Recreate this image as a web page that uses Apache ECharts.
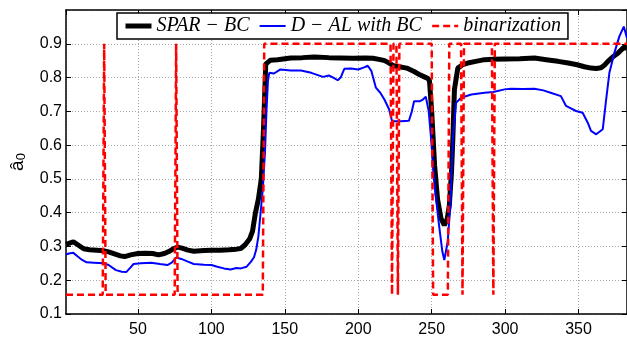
<!DOCTYPE html>
<html>
<head>
<meta charset="utf-8">
<script src="https://cdn.jsdelivr.net/npm/echarts@6/dist/echarts.min.js"></script>
<style>
  html, body { margin: 0; padding: 0; background: #fff; }
  #chart { width: 627px; height: 338px; }
</style>
</head>
<body>
<div id="chart"></div>
<script>
// series names
const names = ['SPAR − BC', 'D − AL with BC', 'binarization'];

// SPAR-BC (black, thick)
const sparX = [1, 3, 6, 9, 13, 17, 22, 27, 30, 34, 38, 41, 45, 50, 55, 60, 64, 68, 71, 74, 77, 80, 84, 88, 95, 100, 106, 112, 117, 120, 123, 126, 128, 130, 132, 134, 135.5, 137, 140, 145, 154, 162, 170, 180, 188, 196, 205, 210, 215, 218, 221, 224, 228, 233, 238, 242, 245, 247.5, 248.5, 250, 252, 254, 256.4, 258.6, 260.5, 262, 263.5, 264.4, 265.5, 267.8, 271, 274.6, 280, 286, 292, 300, 310, 320, 328, 336, 343, 349, 354, 358.5, 362, 365.3, 368, 370, 373, 377, 381, 383];
const sparY = [0.307, 0.309, 0.314, 0.305, 0.293, 0.29, 0.289, 0.287, 0.284, 0.278, 0.272, 0.27, 0.275, 0.279, 0.28, 0.279, 0.275, 0.279, 0.285, 0.293, 0.298, 0.295, 0.289, 0.286, 0.288, 0.289, 0.289, 0.29, 0.292, 0.294, 0.305, 0.322, 0.345, 0.40, 0.44, 0.50, 0.65, 0.84, 0.851, 0.853, 0.858, 0.859, 0.861, 0.859, 0.858, 0.857, 0.858, 0.857, 0.853, 0.85, 0.843, 0.835, 0.832, 0.828, 0.818, 0.808, 0.802, 0.797, 0.79, 0.7, 0.54, 0.44, 0.382, 0.363, 0.38, 0.421, 0.52, 0.618, 0.765, 0.828, 0.838, 0.843, 0.848, 0.853, 0.854, 0.855, 0.856, 0.858, 0.853, 0.848, 0.843, 0.838, 0.832, 0.828, 0.827, 0.829, 0.838, 0.848, 0.86, 0.873, 0.89, 0.887];

// D-AL with BC (blue)
const dalX = [1, 3, 6, 9, 12, 15, 20, 27, 30, 35, 39, 42, 45, 47, 52, 59, 65, 70, 73, 76, 79.5, 84, 88, 95, 100, 104, 108.5, 113, 117, 120, 124, 127, 129, 130.5, 132, 133.5, 135, 136.5, 137.5, 138.5, 139.4, 142.6, 147, 154, 161, 168, 172, 176, 180, 183, 186, 188, 190.5, 195, 200, 204, 206.5, 209, 212, 215, 217.8, 221, 223, 229, 234.5, 236.5, 238, 242, 244, 246, 248, 249.6, 252, 255, 257.3, 258.6, 260.9, 262.7, 264.4, 266.6, 270, 277, 286, 292, 299.6, 304, 312, 320, 326, 331, 338, 341.5, 343.8, 348.3, 352.8, 356.2, 358.5, 362, 366.5, 368.8, 371, 374.4, 377.8, 380.8, 383];
const dalY = [0.276, 0.279, 0.281, 0.27, 0.26, 0.253, 0.252, 0.25, 0.245, 0.23, 0.225, 0.224, 0.238, 0.248, 0.25, 0.252, 0.248, 0.245, 0.252, 0.267, 0.263, 0.255, 0.248, 0.246, 0.245, 0.24, 0.235, 0.232, 0.236, 0.235, 0.24, 0.255, 0.268, 0.29, 0.33, 0.40, 0.47, 0.58, 0.70, 0.79, 0.814, 0.812, 0.824, 0.821, 0.821, 0.814, 0.808, 0.802, 0.806, 0.8, 0.792, 0.8, 0.826, 0.827, 0.824, 0.83, 0.835, 0.819, 0.77, 0.755, 0.735, 0.706, 0.671, 0.671, 0.672, 0.7, 0.73, 0.73, 0.735, 0.743, 0.7, 0.618, 0.48, 0.363, 0.284, 0.26, 0.314, 0.421, 0.618, 0.725, 0.74, 0.75, 0.755, 0.757, 0.765, 0.767, 0.766, 0.767, 0.762, 0.755, 0.745, 0.716, 0.711, 0.701, 0.696, 0.667, 0.642, 0.632, 0.647, 0.735, 0.814, 0.873, 0.922, 0.951, 0.917];

// binarization (red dashed step signal)
const binX = [1, 26, 27, 28, 75, 76, 77, 135, 136, 222, 223, 224, 226, 227, 228, 250, 251, 261, 262, 270, 271, 272, 291, 292, 293, 383];
const binY = [0.157, 0.157, 0.9, 0.157, 0.157, 0.9, 0.157, 0.157, 0.9, 0.9, 0.157, 0.9, 0.9, 0.157, 0.9, 0.9, 0.157, 0.157, 0.9, 0.9, 0.157, 0.9, 0.9, 0.157, 0.9, 0.9];

const zip = (xs, ys) => xs.map((x, i) => [x, ys[i]]);

const chart = echarts.init(document.getElementById('chart'), null, { renderer: 'canvas' });

const gridLine = { show: true, lineStyle: { color: '#a8a8a8', width: 1, type: [1, 2] } };
const tickIn = { show: true, inside: true, length: 5, lineStyle: { color: '#000', width: 1 } };
const axLine = { show: true, lineStyle: { color: '#000', width: 1.5 } };
const labelFont = { fontFamily: 'Liberation Sans', fontSize: 16, color: '#000' };

const option = {
  animation: false,
  backgroundColor: '#fff',
  grid: { left: 65, right: 0, top: 10, bottom: 22 },
  legend: {
    left: 117, top: 13,
    padding: [3, 7, 3, 6],
    itemGap: 9, itemWidth: 26, itemHeight: 20,
    backgroundColor: '#fff', borderColor: '#000', borderWidth: 1.5, borderRadius: 0,
    textStyle: { fontFamily: 'Liberation Serif', fontStyle: 'italic', fontSize: 20, color: '#000' },
    lineStyle: { width: 'inherit' },
    itemStyle: { opacity: 0 },
    data: names
  },
  xAxis: [{
    type: 'value', min: 1, max: 383, splitNumber: 8,
    axisLine: axLine, axisTick: tickIn, splitLine: gridLine,
    axisLabel: Object.assign({ margin: 8, showMinLabel: false, showMaxLabel: false }, labelFont)
  }, {
    type: 'value', position: 'top', min: 1, max: 383, splitNumber: 8,
    axisLine: axLine, axisTick: tickIn, splitLine: { show: false }, axisLabel: { show: false }
  }],
  yAxis: [{
    type: 'value', min: 0.1, max: 1.0, interval: 0.1,
    axisLine: axLine, axisTick: tickIn, splitLine: gridLine,
    axisLabel: Object.assign({ margin: 4, showMaxLabel: false, formatter: v => v.toFixed(1) }, labelFont),
    name: '{a|â}{b|0}', nameLocation: 'middle', nameGap: 38, nameRotate: 90,
    nameTextStyle: {
      rich: {
        a: { fontFamily: 'Liberation Sans', fontSize: 19, color: '#000' },
        b: { fontFamily: 'Liberation Sans', fontSize: 13, color: '#000', padding: [8, 0, 0, 0] }
      }
    }
  }, {
    type: 'value', position: 'right', min: 0.1, max: 1.0, interval: 0.1,
    axisLine: axLine, axisTick: tickIn, splitLine: { show: false }, axisLabel: { show: false }
  }],
  series: [{
    name: names[0], type: 'line', data: zip(sparX, sparY),
    showSymbol: false, symbol: 'none',
    lineStyle: { color: '#000', width: 5 }, itemStyle: { color: '#000' }, z: 3
  }, {
    name: names[1], type: 'line', data: zip(dalX, dalY),
    showSymbol: false, symbol: 'none',
    lineStyle: { color: '#0000ff', width: 2 }, itemStyle: { color: '#0000ff' }, z: 4
  }, {
    name: names[2], type: 'line', data: zip(binX, binY),
    showSymbol: false, symbol: 'none',
    lineStyle: { color: '#ff0000', width: 2.5, type: [7, 4] }, itemStyle: { color: '#ff0000' }, z: 5
  }]
};

chart.setOption(option);
</script>
</body>
</html>
